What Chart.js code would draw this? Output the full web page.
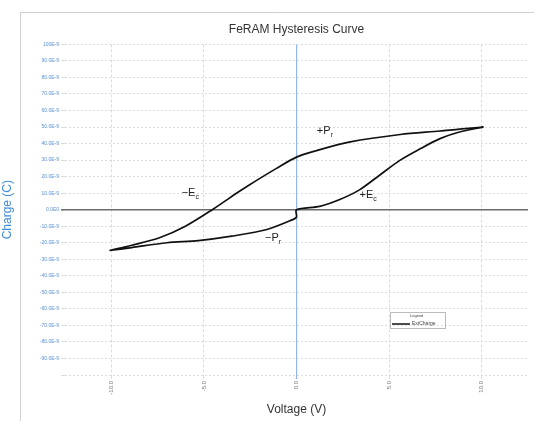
<!DOCTYPE html>
<html>
<head>
<meta charset="utf-8">
<script src="https://cdn.jsdelivr.net/npm/chart.js@4/dist/chart.umd.min.js"></script>
<style>
  html, body { margin: 0; padding: 0; background: #fff; }
  #wrap { position: relative; width: 534px; height: 421px; }
</style>
</head>
<body>
<div id="wrap"><canvas id="c" width="534" height="421"></canvas></div>
<script>
// FeRAM hysteresis loop — charge in units of 1E-9 C, voltage in V

const upperV = [10.1, 8.8, 7.75, 5.6, 2.9, 1.0, 0, -1.08, -2.55, -3.1, -4.55, -6.0, -7.4, -8.9, -10.1];
const upperQ = [50, 48.8, 47.6, 45.5, 41, 35.5, 31.8, 25, 15, 11, 0, -10, -17, -21.5, -24.7];

const lowerV = [-10.1, -8.9, -7.0, -5.3, -3.5, -1.6, -0.2, 0, 0, 1.25, 2.3, 3.4, 4.5, 5.6, 6.7, 7.75, 8.8, 10.1];
const lowerQ = [-24.7, -22.9, -20, -18.7, -16, -12, -6, -4.5, 0, 2, 6, 12, 21, 30, 37, 43, 47, 50];

const xTicks = [-10, -5, 0, 5, 10];
const xTickLabels = ['-10.0', '-5.0', '0.0', '5.0', '10.0'];
const yTicks = [-100, -90, -80, -70, -60, -50, -40, -30, -20, -10, 0, 10, 20, 30, 40, 50, 60, 70, 80, 90, 100];
const yTickLabels = ['', '-90.0E-9', '-80.0E-9', '-70.0E-9', '-60.0E-9', '-50.0E-9', '-40.0E-9', '-30.0E-9', '-20.0E-9', '-10.0E-9',
  '0.0E0', '10.0E-9', '20.0E-9', '30.0E-9', '40.0E-9', '50.0E-9', '60.0E-9', '70.0E-9', '80.0E-9', '90.0E-9', '100E-9'];

const notes = [
  { text: '+P', sub: 'r', v: 1.1, q: 46 },
  { text: '\u2212E', sub: 'c', v: -6.2, q: 8 },
  { text: '+E', sub: 'c', v: 3.4, q: 7 },
  { text: '\u2212P', sub: 'r', v: -1.7, q: -19 },
];

const loop = upperV.map((v, i) => ({ x: v, y: upperQ[i] }))
  .concat(lowerV.map((v, i) => ({ x: v, y: lowerQ[i] })));

const FONT = "'Liberation Sans', Arial, sans-serif";

const framePlugin = {
  id: 'frame',
  beforeDraw(chart) {
    const ctx = chart.ctx;
    ctx.save();
    ctx.strokeStyle = '#cfcfcf';
    ctx.lineWidth = 1;
    ctx.beginPath();
    ctx.moveTo(20.5, 421);
    ctx.lineTo(20.5, 12.5);
    ctx.lineTo(534, 12.5);
    ctx.stroke();
    ctx.restore();
  },
  afterDraw(chart) {
    const ctx = chart.ctx;
    const xs = chart.scales.x;
    const ys = chart.scales.y;
    ctx.save();
    ctx.fillStyle = '#222';
    ctx.textBaseline = 'alphabetic';
    for (const n of notes) {
      const px = xs.getPixelForValue(n.v);
      const py = ys.getPixelForValue(n.q);
      ctx.font = `11px ${FONT}`;
      ctx.fillText(n.text, px, py);
      const w = ctx.measureText(n.text).width;
      ctx.font = `7px ${FONT}`;
      ctx.fillText(n.sub, px + w, py + 3);
    }
    // legend box
    const lx = 390, ly = 312;
    ctx.strokeStyle = '#bbb';
    ctx.lineWidth = 1;
    ctx.strokeRect(lx + 0.5, ly + 0.5, 55, 16);
    ctx.fillStyle = '#444';
    ctx.font = `4px ${FONT}`;
    ctx.fillText('Legend', lx + 20, ly + 5);
    ctx.font = `5px ${FONT}`;
    ctx.fillText('ExtCharge', lx + 22, ly + 13);
    ctx.strokeStyle = '#111';
    ctx.lineWidth = 1.5;
    ctx.beginPath();
    ctx.moveTo(lx + 2, ly + 12);
    ctx.lineTo(lx + 20, ly + 12);
    ctx.stroke();
    ctx.restore();
  },
};

new Chart(document.getElementById('c'), {
  type: 'scatter',
  data: {
    datasets: [{
      label: 'ExtCharge',
      data: loop,
      showLine: true,
      borderColor: '#111',
      borderWidth: 1.7,
      pointRadius: 0,
      tension: 0.3,
      fill: false,
    }],
  },
  options: {
    responsive: false,
    animation: false,
    layout: { padding: { left: 0, right: 6, top: 0, bottom: 0 } },
    plugins: {
      legend: { display: false },
      tooltip: { enabled: false },
      title: {
        display: true,
        fullSize: false,
        text: 'FeRAM Hysteresis Curve',
        color: '#333',
        font: { family: FONT, size: 12, weight: 'normal' },
        padding: { top: 22, bottom: 8 },
      },
    },
    scales: {
      x: {
        type: 'linear',
        min: -12.5,
        max: 12.5,
        afterBuildTicks: (s) => { s.ticks = xTicks.map((v) => ({ value: v })); },
        afterFit: (s) => { s.height = 46; },
        border: { display: false, dash: (c) => (c.tick && c.tick.value === 0 ? [] : [3, 2]) },
        grid: {
          color: (c) => (c.tick && c.tick.value === 0 ? '#8fb8e8' : '#dcdcdc'),
          lineWidth: (c) => (c.tick && c.tick.value === 0 ? 1.2 : 1),
          tickLength: 4,
        },
        ticks: {
          color: '#777',
          font: { family: FONT, size: 6 },
          minRotation: 90,
          maxRotation: 90,
          padding: 2,
          callback: (v) => xTickLabels[xTicks.indexOf(v)] ?? '',
        },
        title: {
          display: true,
          text: 'Voltage (V)',
          color: '#333',
          font: { family: FONT, size: 12 },
          padding: { top: 0, bottom: 4 },
        },
      },
      y: {
        type: 'linear',
        min: -100,
        max: 100,
        afterBuildTicks: (s) => { s.ticks = yTicks.map((v) => ({ value: v })); },
        afterFit: (s) => { s.width = 65; },
        border: { display: false, dash: (c) => (c.tick && c.tick.value === 0 ? [] : [2, 2]) },
        grid: {
          color: (c) => (c.tick && c.tick.value === 0 ? '#6b6b6b' : '#dcdcdc'),
          lineWidth: (c) => (c.tick && c.tick.value === 0 ? 1.6 : 1),
          tickLength: 4,
        },
        ticks: {
          color: '#5b8fd0',
          font: { family: FONT, size: 5 },
          padding: 2,
          callback: (v) => yTickLabels[yTicks.indexOf(v)] ?? '',
        },
        title: {
          display: true,
          text: 'Charge (C)',
          color: '#3d8bd6',
          font: { family: FONT, size: 12 },
          padding: { top: 0, bottom: 2 },
        },
      },
    },
  },
  plugins: [framePlugin],
});
</script>
</body>
</html>
